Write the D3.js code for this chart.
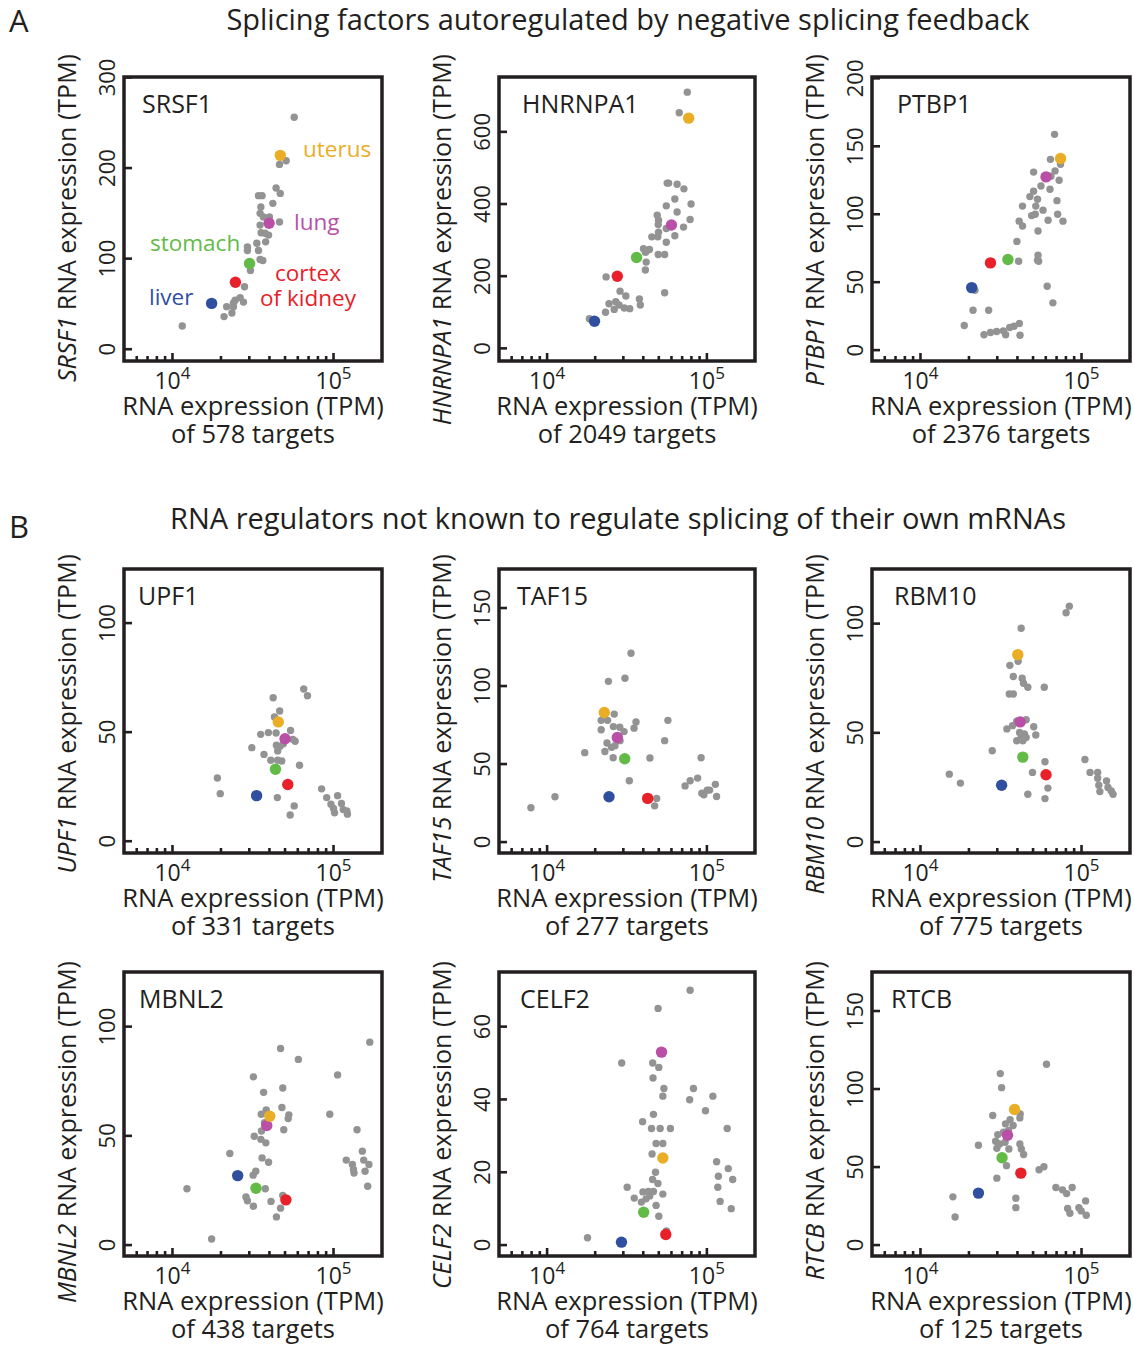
<!DOCTYPE html>
<html><head><meta charset="utf-8">
<script src="https://cdn.jsdelivr.net/npm/d3@7"></script>
<style>
body{margin:0;background:#fff}
svg{display:block}
text{font-family:'Open Sans','Noto Sans',sans-serif;fill:#231f20}
</style>
</head><body>
<svg id="chart" width="1134" height="1347"></svg>
<script>
// ---------------- DATA ----------------
const sectionTitles = ["Splicing factors autoregulated by negative splicing feedback",
                       "RNA regulators not known to regulate splicing of their own mRNAs"];
const sectionLetters = ["A","B"];
const panelGenes = ["SRSF1","HNRNPA1","PTBP1","UPF1","TAF15","RBM10","MBNL2","CELF2","RTCB"];
const panelTargets = [578,2049,2376,331,277,775,438,764,125];
const yTickValues = [[0,100,200,300],[0,200,400,600],[0,50,100,150,200],[0,50,100],
                     [0,50,100,150],[0,50,100],[0,50,100],[0,20,40,60],[0,50,100,150]];
const yDomains = [[-13,300.5],[-35,752],[-8,201],[-5.4,124.8],[-7,175],[-5,125],[-5,125],[-3,75],[-7,175]];
const xDomain = [5000,200000];
const xMajorTicks = [1e4,1e5];
const xMinorTicks = [6000,7000,8000,9000,20000,30000,40000,50000,60000,70000,80000,90000];
const xTickExponents = [4,5];
const tissues = ["liver","cortex of kidney","stomach","lung","uterus"];
const tissueColors = ["#30509f","#e8202a","#62bb46","#b94fa6","#e9ae25"];
const grayColor = "#939393";

// tissue values per panel: [x, y] in order liver, cortex, stomach, lung, uterus
const srsf1Tissues = [[17500,50.6],[24600,74],[30100,94.7],[39800,139],[46700,214]];
const hnrnpa1Tissues = [[19800,75],[27500,200],[36300,252],[60000,342],[76900,638]];
const ptbp1Tissues = [[20800,46],[27200,64.2],[34900,66.7],[60200,127.5],[74100,141]];
const upf1Tissues = [[33300,20.9],[52000,26],[43600,33],[50000,47],[45400,54.7]];
const taf15Tissues = [[24400,29],[42600,28],[30600,53.4],[27500,67],[22800,83]];
const rbm10Tissues = [[31900,26],[60200,30.8],[43200,38.9],[41600,55],[40200,85.8]];
const mbnl2Tissues = [[25400,31.8],[50600,20.7],[33000,26],[38500,54.7],[40200,59]];
const celf2Tissues = [[29200,0.8],[55300,2.9],[40200,9],[52000,53],[53000,23.9]];
const rtcbTissues = [[22900,33.3],[42000,46.1],[32100,56],[34700,70.4],[38400,86.9]];

// other tissues (gray)
const srsf1Gray = [[57000,256],[46200,204],[50800,208],[44000,178],[46700,172],[34200,169.5],[36000,169.5],[42000,161],[35400,157],[35000,150],[36700,146],[40000,146],[46200,140.5],[35000,137],[37600,128],[35500,128.5],[39500,126],[33400,117],[37900,118.5],[29200,113],[29200,109],[34200,109],[35000,99],[36400,98],[30500,87],[28000,69],[26300,57],[24500,54],[27600,52],[23900,51],[21700,47],[23900,47],[23400,40],[20900,36],[11500,25.7]];
const hnrnpa1Gray = [[75400,710],[67100,653],[56400,458],[57600,458],[65100,455],[71800,442],[63000,414],[79600,400],[55700,395],[65100,378],[48900,369],[78500,357],[49800,355],[49600,343],[71400,336],[55700,332],[63000,312],[49800,322],[45200,309],[49300,309],[55700,294],[40100,276],[43700,274],[41300,266],[49600,260],[54400,260],[41700,239],[41200,217],[23400,198],[28600,158.5],[54400,154],[31100,145],[26900,129],[37800,137],[38300,120],[24400,123.5],[28200,120],[30400,112],[32900,110],[26300,108],[23200,100],[18400,82]];
const ptbp1Gray = [[68000,158.8],[64100,140.4],[74100,136.8],[68500,131.9],[50400,131],[64600,128],[72600,125],[56000,120.8],[63700,118.4],[50400,117],[47800,113],[53300,111],[52000,106],[43000,106],[70400,110],[57700,103],[51600,100],[49000,99],[71100,100],[41000,94.9],[62000,95.6],[76700,94.9],[43000,91.4],[53700,87.7],[39700,80],[53700,69.9],[53300,66.2],[54200,65.4],[40700,65.4],[21800,44],[61200,47],[66400,34.8],[21200,29.4],[26500,29.4],[18700,18.1],[41100,19.6],[38100,17.6],[35800,16.7],[32700,14.2],[29700,13.7],[27200,13],[24800,11.3],[33800,11.3],[41500,11]];
const upf1Gray = [[65300,69.8],[68900,66.7],[42200,65.8],[46300,59.7],[43000,57],[39400,49.8],[35300,49],[44000,49.6],[54100,50.8],[48800,44.7],[55900,46.7],[57800,45.8],[46500,43.5],[44200,44],[45000,41.4],[31100,42.9],[37000,39.8],[40800,37.1],[45000,37.1],[47700,36.8],[61500,34.8],[19000,29],[19800,21.8],[44800,20],[57000,16.2],[53800,12],[84300,24],[90700,20],[96400,17],[106000,20.9],[112000,17.3],[100000,15],[101500,13],[115000,14.5],[121000,13.9],[122000,12.4]];
const taf15Gray = [[33500,121],[30700,105],[24200,103],[26300,82],[57000,78],[36000,77],[21800,78],[23900,78],[35000,73],[26000,74],[28500,73.6],[21800,72],[30300,70.8],[28600,65],[54400,65],[23700,63.5],[25300,60.7],[26600,61.8],[23000,58],[17200,57.3],[25900,54],[44000,53.9],[92000,54],[32700,39.3],[87500,41],[78600,39.3],[73000,36],[113000,37],[104000,33.3],[93000,31.3],[95700,30.3],[115000,29.2],[100500,33.3],[48500,28],[47100,23.2],[11200,29],[7920,22]];
const rbm10Gray = [[84000,108],[80200,105],[42200,97.9],[40400,82.8],[35900,80.9],[37700,75.8],[42800,75],[43600,72.7],[46400,70.9],[58700,70.9],[35600,67.8],[37700,67.8],[39600,55.3],[45300,56],[34400,51.8],[37300,53.3],[50500,52.8],[41200,50.2],[44200,49.5],[52000,49],[39600,46.4],[43200,46.4],[45300,47.9],[42200,47.9],[27900,41.8],[59300,36.8],[49600,31.9],[15100,31.1],[17700,27],[46400,21.9],[61800,24.7],[59300,19.9],[105000,37.8],[113000,31.9],[126000,31.9],[126000,29.2],[128000,26],[130000,23.1],[143000,28],[146000,25],[153000,23.4],[157000,21.9]];
const mbnl2Gray = [[168000,92.9],[46900,90],[60500,85],[106000,77.9],[31800,77],[48400,71.9],[36800,69.9],[47800,63],[38200,61.8],[94800,59.9],[35600,59.9],[52800,59.6],[52300,57.9],[37300,56],[49100,52.8],[140000,52.8],[35700,52.2],[32200,49.8],[35400,48.4],[38000,46.8],[22700,41.9],[151000,43],[36000,39.9],[39500,37.9],[120000,38.9],[131000,36.9],[154000,38.9],[166000,36.9],[133000,34.6],[134000,33],[157000,33.8],[32900,33.8],[31700,32],[163000,26.9],[37700,25.8],[12300,25.8],[28600,22],[29200,20.3],[40900,20],[48400,22.7],[31800,17.8],[46900,16.9],[44200,12.9],[17500,2.8]];
const celf2Gray = [[78500,70],[49500,65],[29300,50],[45800,50],[50000,48.8],[46000,45.9],[53800,43],[82400,43],[53000,40.9],[78000,39.9],[109000,40.9],[98000,36.9],[46300,35.9],[39600,33.9],[45000,32],[51000,32],[59100,32],[134000,32],[48100,27.9],[53000,27.9],[45400,25],[115000,22.9],[136000,21],[47700,20],[118000,18.9],[145000,18],[45700,18],[49400,16.9],[31700,15.9],[117000,15.9],[43000,14.7],[46300,14.7],[39800,14.6],[53000,14],[43900,13.5],[35100,12.9],[41600,12.7],[38900,11.8],[121000,12],[48100,10.9],[142000,10],[50000,7.9],[55800,3.9],[17900,2]];
const rtcbGray = [[60600,115.9],[31300,109.9],[31900,100.9],[41600,84],[41400,81.5],[28100,83],[36000,80.3],[33700,77.7],[37600,76.6],[32800,72.3],[30200,70.8],[35200,73.4],[29300,66.5],[31000,64.8],[33500,65.9],[22900,64],[41400,64.8],[42300,61.6],[29800,62],[35400,61.6],[43700,58],[34200,50.9],[58400,50.2],[54500,48.3],[29800,42.9],[69300,36.9],[76200,35.4],[80800,33],[87500,36.9],[106000,28.3],[15900,30.9],[16400,18],[39100,30],[39100,24],[82000,23.4],[84700,20.4],[96300,24],[99500,21.9],[107000,19.1]];

const panelGray = [srsf1Gray,hnrnpa1Gray,ptbp1Gray,upf1Gray,taf15Gray,rbm10Gray,mbnl2Gray,celf2Gray,rtcbGray];
const panelTissues = [srsf1Tissues,hnrnpa1Tissues,ptbp1Tissues,upf1Tissues,taf15Tissues,rbm10Tissues,mbnl2Tissues,celf2Tissues,rtcbTissues];

// ---------------- LAYOUT ----------------
const boxTops = [77,569,972];
const boxLefts = [124,499,872];
const boxWidths = [258,256,258];
const boxH = 284;
const geneLabelDx = [18,23,25,14,18,22,15,21,19];
const yTitleTop = [54,554,961];   // y-axis titles are aligned at their top end per row

const svg = d3.select("#chart");
const ink = "#231f20";

// section headers
const headerY = [30,529];
const headerCx = [628,618];
const letterY = [32,538];
sectionTitles.forEach((t,i)=>{
  svg.append("text").attr("x",headerCx[i]).attr("y",headerY[i]).attr("text-anchor","middle")
     .style("font-size","29px").text(t);
  svg.append("text").attr("x",9).attr("y",letterY[i]).style("font-size","31px").text(sectionLetters[i]);
});

panelGenes.forEach((gene,i)=>{
  const row = Math.floor(i/3), col = i%3;
  const x0 = boxLefts[col], y0 = boxTops[row], w = boxWidths[col], h = boxH;
  const x = d3.scaleLog().domain(xDomain).range([x0, x0+w]);
  const y = d3.scaleLinear().domain(yDomains[i]).range([y0+h, y0]);
  const g = svg.append("g");

  // x ticks (inward)
  g.selectAll(".xmin").data(xMinorTicks).join("line")
    .attr("x1",d=>x(d)).attr("x2",d=>x(d)).attr("y1",y0+h).attr("y2",y0+h-5)
    .attr("stroke",ink).attr("stroke-width",2.6);
  g.selectAll(".xmaj").data(xMajorTicks).join("line")
    .attr("x1",d=>x(d)).attr("x2",d=>x(d)).attr("y1",y0+h).attr("y2",y0+h-8)
    .attr("stroke",ink).attr("stroke-width",2.6);
  // x tick labels 10^n
  xMajorTicks.forEach((v,k)=>{
    const t = g.append("text").attr("x",x(v)).attr("y",y0+h+28).attr("text-anchor","middle")
      .style("font-size","23px");
    t.append("tspan").text("10");
    t.append("tspan").attr("dy",-10).style("font-size","17px").text(xTickExponents[k]);
  });
  // y ticks (inward)
  g.selectAll(".yt").data(yTickValues[i]).join("line")
    .attr("x1",x0).attr("x2",x0+8).attr("y1",d=>y(d)).attr("y2",d=>y(d))
    .attr("stroke",ink).attr("stroke-width",2.6);
  g.selectAll(".yl").data(yTickValues[i]).join("text")
    .attr("transform",d=>`translate(${x0-9},${y(d)}) rotate(-90)`)
    .attr("text-anchor","middle").style("font-size","22px").text(d=>d);

  // points
  g.selectAll(".gp").data(panelGray[i]).join("circle")
    .attr("cx",d=>x(d[0])).attr("cy",d=>y(d[1])).attr("r",3.7).attr("fill",grayColor);
  g.selectAll(".tp").data(panelTissues[i]).join("circle")
    .attr("cx",d=>x(d[0])).attr("cy",d=>y(d[1])).attr("r",5.7)
    .attr("fill",(d,k)=>tissueColors[k]);

  // box
  g.append("rect").attr("x",x0).attr("y",y0).attr("width",w).attr("height",h)
    .attr("fill","none").attr("stroke",ink).attr("stroke-width",3.5);

  // gene label
  g.append("text").attr("x",x0+geneLabelDx[i]).attr("y",y0+36).style("font-size","25px").text(gene);

  // axis titles
  const yt = g.append("text").attr("transform",`translate(${x0-48},${yTitleTop[row]}) rotate(-90)`)
    .attr("text-anchor","end").style("font-size","25px");
  yt.append("tspan").style("font-style","italic").text(gene);
  yt.append("tspan").text(" RNA expression (TPM)");
  g.append("text").attr("x",x0+w/2).attr("y",y0+h+54).attr("text-anchor","middle")
    .style("font-size","25.5px").text("RNA expression (TPM)");
  g.append("text").attr("x",x0+w/2).attr("y",y0+h+82).attr("text-anchor","middle")
    .style("font-size","25.5px").text(`of ${panelTargets[i]} targets`);
});

// tissue annotations in first panel
const annLabels = ["uterus","lung","stomach","cortex","of kidney","liver"];
const annColorIdx = [4,3,2,1,1,0];
const annPos = [[303,157,"start"],[294,230,"start"],[150,251,"start"],[308,281,"middle"],[308,306,"middle"],[149,305,"start"]];
annLabels.forEach((t,k)=>{
  svg.append("text").attr("x",annPos[k][0]).attr("y",annPos[k][1]).attr("text-anchor",annPos[k][2])
    .style("font-size","22.5px").style("fill",tissueColors[annColorIdx[k]]).text(t);
});
</script>
</body></html>
